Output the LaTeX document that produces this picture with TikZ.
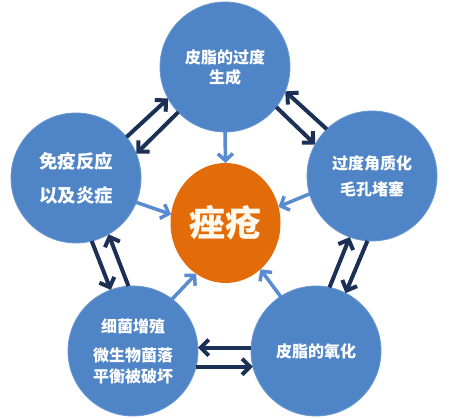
\documentclass[tikz,border=0pt]{standalone}
\usepackage{fontspec}
\newfontfamily\cjk{Noto Sans CJK SC}
\usetikzlibrary{arrows.meta,shapes.geometric}
\begin{document}
\begin{tikzpicture}[x=1pt,y=1pt,
  cause/.style={circle,fill=causeColor,draw=rimColor,line width=0.8pt,minimum size=130pt,inner sep=0pt,outer sep=0pt,
    text=white,align=center,font=\cjk\bfseries\fontsize{16}{20}\selectfont},
  acne/.style={ellipse,fill=acneColor,minimum width=110pt,minimum height=120pt,inner sep=0pt,outer sep=0pt,
    text=acneText,font=\cjk\bfseries\fontsize{36}{40}\selectfont},
  cycle/.style={draw=cycleColor,line width=4pt,-{Straight Barb[length=8pt,width=16pt]}},
  feed/.style={draw=feedColor,line width=3.5pt,-{Straight Barb[length=7pt,width=15pt]}}]
\definecolor{causeColor}{RGB}{79,133,199}
\definecolor{rimColor}{RGB}{104,152,212}
\definecolor{acneColor}{RGB}{227,108,10}
\definecolor{acneText}{RGB}{255,248,236}
\definecolor{cycleColor}{RGB}{28,48,86}
\definecolor{feedColor}{RGB}{88,139,207}
\path[use as bounding box,fill=white] (0,0) rectangle (458,419);

% causes round the ring
\node[cause] (sebum) at (225,352) {皮脂的过度\\生成};
\node[cause,font=\cjk\bfseries\fontsize{18.5}{22}\selectfont] (immune) at (76,241) {免疫反应\\[12pt]以及炎症};
\node[cause] (pore) at (372,243) {过度角质化\\[6pt]毛孔堵塞};
\node[cause] (bacteria) at (133,68) {细菌增殖\\[9pt]微生物菌落\\[1pt]平衡被破坏};
\node[cause] (oxid) at (316,68) {皮脂的氧化};
\node[acne] (acne) at (225.5,196) {痤疮};

% two-way links between neighbours
\draw[cycle] (immune.39) -- (sebum.209);
\draw[cycle] (sebum.224) -- (immune.22);

\draw[cycle] (pore.134) -- (sebum.338);
\draw[cycle] (sebum.322) -- (pore.151);

\draw[cycle] (oxid.78) -- (pore.250);
\draw[cycle] (pore.266) -- (oxid.63);

\draw[cycle] (oxid.177) -- (bacteria.3);
\draw[cycle] (bacteria.346) -- (oxid.194);

\draw[cycle] (immune.284) -- (bacteria.110);
\draw[cycle] (bacteria.94) -- (immune.300);

% every cause feeds the centre
\draw[feed] (sebum.270) -- (acne.90);
\draw[feed] (pore.196) -- (acne.17);
\draw[feed] (immune.338) -- (acne.171);
\draw[feed] (bacteria.53) -- (acne.240);
\draw[feed] (oxid.123) -- (acne.307);
\end{tikzpicture}
\end{document}
